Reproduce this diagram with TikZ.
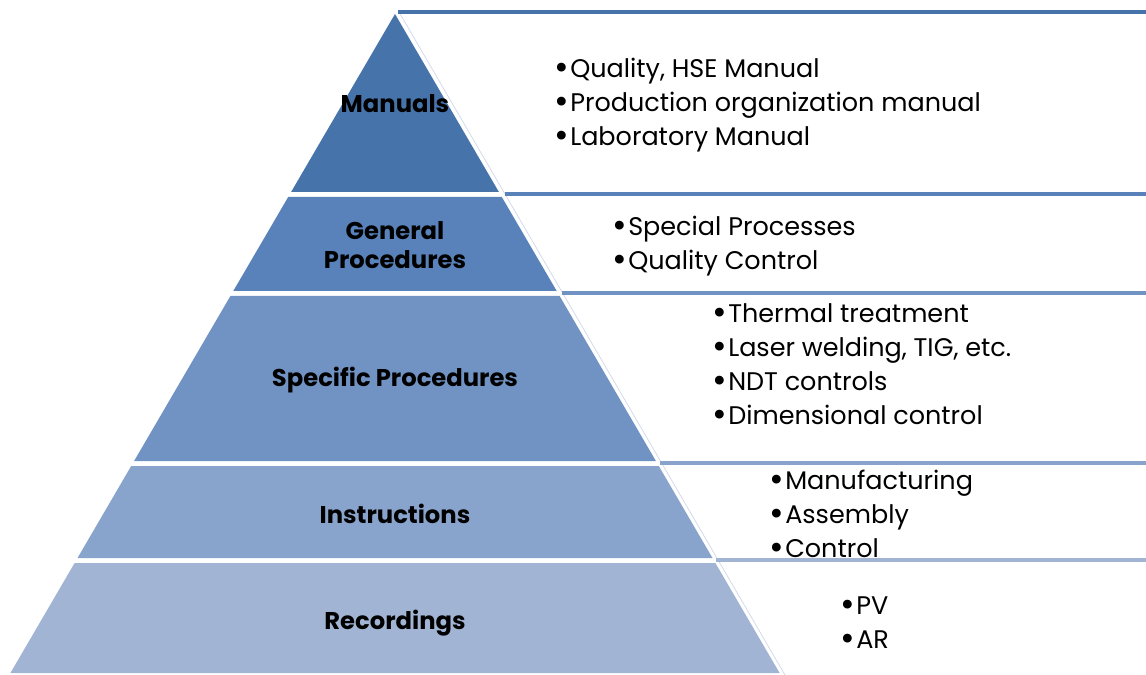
\documentclass[tikz,border=0pt]{standalone}
\usepackage{fontspec}
\setmainfont{Poppins}

\definecolor{lvA}{RGB}{70,115,170}
\definecolor{lvB}{RGB}{88,130,185}
\definecolor{lvC}{RGB}{113,147,196}
\definecolor{lvD}{RGB}{137,164,204}
\definecolor{lvE}{RGB}{162,180,212}
\definecolor{boxedge}{RGB}{205,215,234}

\newcommand{\bul}{\hspace{-0.1em}\raisebox{-0.15ex}{\scalebox{1.4}{•}}\hspace{0.03em}}

\begin{document}
\begin{tikzpicture}[x=0.02cm, y=-0.02cm,
    level/.style={font=\bfseries\fontsize{13.8}{16.5}\selectfont, align=center},
    items/.style={font=\fontsize{14.5}{19.4}\selectfont, align=left, anchor=west, inner sep=0pt},
    topline/.style={line width=2pt}]
    \useasboundingbox (0, 0) rectangle (1146, 675);

    % pyramid
    \fill[lvA] (395, 14) -- (498.9, 192) -- (291.1, 192) -- cycle;
    \fill[lvB] (288.2, 197) -- (501.8, 197) -- (556.7, 291) -- (233.3, 291) -- cycle;
    \fill[lvC] (230.4, 296) -- (559.6, 296) -- (655.9, 461) -- (134.1, 461) -- cycle;
    \fill[lvD] (131.2, 466) -- (658.8, 466) -- (712.5, 558) -- (77.5, 558) -- cycle;
    \fill[lvE] (74.6, 563) -- (715.4, 563) -- (779.6, 673) -- (10.4, 673) -- cycle;

    % text boxes
    \draw[boxedge, line width=0.4pt] (399, 12) -- (785, 675);
    \draw[topline, lvA] (398, 12) -- (1146, 12);
    \draw[topline, lvB] (505, 194) -- (1146, 194);
    \draw[topline, lvC] (562, 293) -- (1146, 293);
    \draw[topline, lvD] (660, 463) -- (1146, 463);
    \draw[topline, lvE] (716, 560) -- (1146, 560);

    \node[level] (manuals) at (395, 104) {Manuals};
    \node[level] (general) at (395, 245) {General\\Procedures};
    \node[level] (specific) at (395, 380) {Specific Procedures};
    \node[level] (instructions) at (395, 514) {Instructions};
    \node[level] (recordings) at (395, 623) {Recordings};

    \node[items] (manualsList) at (557, 105) {\bul Quality, HSE Manual\\\bul Production organization manual\\\bul Laboratory Manual};
    \node[items] (generalList) at (615, 246) {\bul Special Processes\\\bul Quality Control};
    \node[items] (specificList) at (715, 365) {\bul Thermal treatment\\\bul Laser welding, TIG, etc.\\\bul NDT controls\\\bul Dimensional control};
    \node[items] (instructionsList) at (772, 515) {\bul Manufacturing\\\bul Assembly\\\bul Control};
    \node[items] (recordingsList) at (843, 624) {\bul PV\\\bul AR};
\end{tikzpicture}
\end{document}
